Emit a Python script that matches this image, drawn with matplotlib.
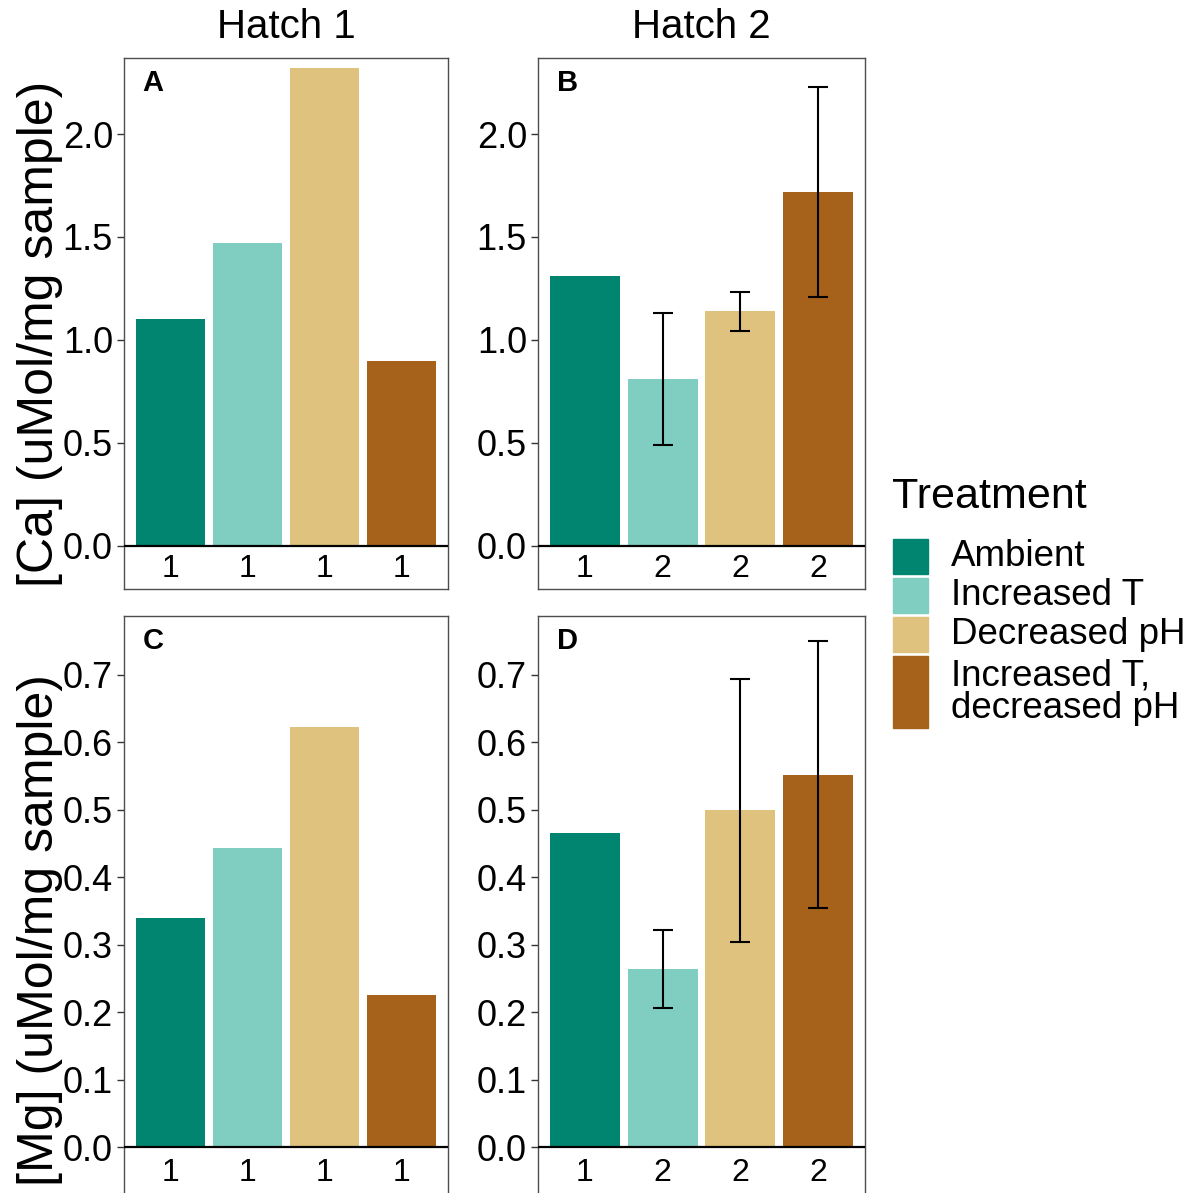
import numpy as np
import matplotlib.pyplot as plt
from matplotlib.patches import Rectangle

plt.rcParams['font.family'] = ['Liberation Sans', 'DejaVu Sans']

# data
treatments = ["Ambient", "Increased T", "Decreased pH", "Increased T,\ndecreased pH"]
colors = ["#018571", "#80CDC1", "#DFC27D", "#A6611A"]

hatch1_labels = ["1", "1", "1", "1"]
hatch2_labels = ["1", "2", "2", "2"]

ca_hatch1 = [1.10, 1.47, 2.32, 0.90]
ca_hatch2 = [1.31, 0.81, 1.14, 1.72]
ca_hatch2_err = [np.nan, 0.32, 0.095, 0.51]

mg_hatch1 = [0.340, 0.443, 0.623, 0.226]
mg_hatch2 = [0.466, 0.264, 0.499, 0.552]
mg_hatch2_err = [np.nan, 0.058, 0.195, 0.198]

W, H = 1203, 1193
fig = plt.figure(figsize=(W / 100, H / 100), dpi=100)


def px_axes(left, top, right, bottom):
    return fig.add_axes([left / W, 1 - bottom / H, (right - left) / W, (bottom - top) / H])


def draw_panel(ax, values, err, xlabels, letter, ylim, yticks, letter_y):
    x = np.arange(1, len(values) + 1)
    values = np.array(values)
    ax.bar(x, values, width=0.9, color=colors, zorder=2)
    if err is not None:
        err = np.array(err)
        ok = ~np.isnan(err)
        ax.errorbar(x[ok], values[ok], yerr=err[ok], fmt='none', ecolor='black',
                    elinewidth=1.5, capsize=7.5, capthick=1.5, zorder=3)
    ax.axhline(0, color='black', lw=1.6, zorder=4)
    ax.set_xlim(0.4, len(values) + 0.6)
    ax.set_ylim(*ylim)
    ax.set_xticks([])
    ax.set_yticks(yticks)
    ax.set_yticklabels([f"{t:.1f}" for t in yticks])
    ax.tick_params(axis='y', length=5, width=1, color='#333333', labelsize=26, pad=3)
    # x labels sit inside the frame, below the zero line
    for xi, lab in zip(x, xlabels):
        ax.text(xi, ylim[0] / 2 - (ylim[1] - ylim[0]) * 0.002, lab,
                ha='center', va='center', fontsize=23)
    ax.text(0.09, letter_y, letter, transform=ax.transAxes, fontweight='bold',
            fontsize=21, ha='center', va='center')
    for s in ax.spines.values():
        s.set_color('#4d4d4d')
        s.set_linewidth(1.0)


ca_ylim = (-0.209, 2.369)
mg_ylim = (-0.072, 0.787)
ca_ticks = [0.0, 0.5, 1.0, 1.5, 2.0]
mg_ticks = [0.0, 0.1, 0.2, 0.3, 0.4, 0.5, 0.6, 0.7]

axA = px_axes(124, 58, 448, 589)
axB = px_axes(538, 58, 865, 589)
axC = px_axes(124, 616, 448, 1196)
axD = px_axes(538, 616, 865, 1196)

draw_panel(axA, ca_hatch1, None, hatch1_labels, "A", ca_ylim, ca_ticks, 0.953)
draw_panel(axB, ca_hatch2, ca_hatch2_err, hatch2_labels, "B", ca_ylim, ca_ticks, 0.953)
draw_panel(axC, mg_hatch1, None, hatch1_labels, "C", mg_ylim, mg_ticks, 0.957)
draw_panel(axD, mg_hatch2, mg_hatch2_err, hatch2_labels, "D", mg_ylim, mg_ticks, 0.957)

# overlay in pixel coordinates for titles, axis labels and legend
ov = fig.add_axes([0, 0, 1, 1], zorder=-1)
ov.set_xlim(0, W)
ov.set_ylim(H, 0)
ov.axis('off')

ov.text(286, 27, "Hatch 1", ha='center', va='center', fontsize=29)
ov.text(701, 27, "Hatch 2", ha='center', va='center', fontsize=29)
ov.text(40, 334, "[Ca] (uMol/mg sample)", rotation=90, ha='center', va='center', fontsize=36)
ov.text(40, 930, "[Mg] (uMol/mg sample)", rotation=90, ha='center', va='center', fontsize=36)

ov.text(892, 497, "Treatment", ha='left', va='center', fontsize=31)
y = 539
key_w, line_h, gap = 35, 35, 4
for lab, col in zip(treatments, colors):
    n = lab.count("\n") + 1
    h = line_h * n + 2 * (n - 1)
    ov.add_patch(Rectangle((893, y), key_w, h, color=col))
    ov.text(951, y + h / 2, lab, ha='left', va='center', fontsize=26.5, linespacing=0.92)
    y += h + gap

fig.savefig("out.png", dpi=100)
